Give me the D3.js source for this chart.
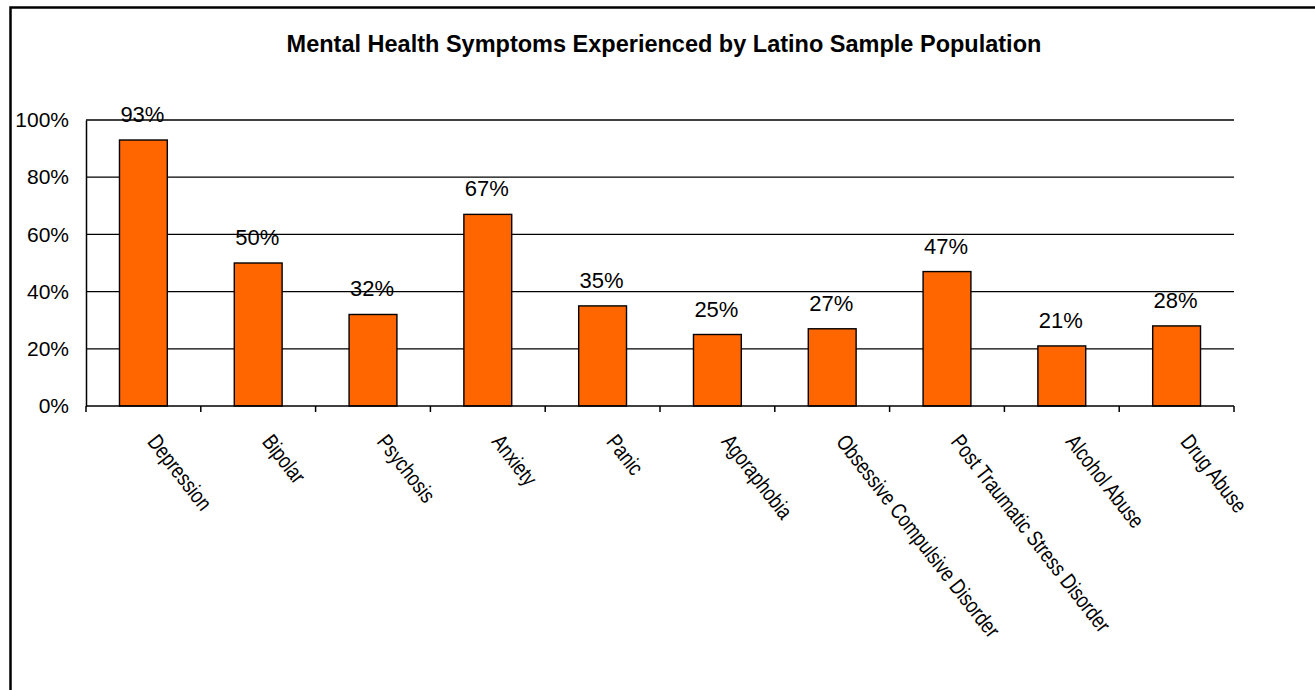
<!DOCTYPE html>
<html>
<head>
<meta charset="utf-8">
<script src="https://cdn.jsdelivr.net/npm/d3@7"></script>
<style>
  html, body { margin: 0; padding: 0; background: #fff; }
  svg { display: block; font-family: "Liberation Sans", Arial, sans-serif; }
</style>
</head>
<body>
<svg id="chart" width="1315" height="690"></svg>
<script>
// Chart data
const categories = ["Depression", "Bipolar", "Psychosis", "Anxiety", "Panic",
  "Agoraphobia", "Obsessive Compulsive Disorder", "Post Traumatic Stress Disorder",
  "Alcohol Abuse", "Drug Abuse"];
const values = [93, 50, 32, 67, 35, 25, 27, 47, 21, 28];
const yTicks = [0, 20, 40, 60, 80, 100];
const title = "Mental Health Symptoms Experienced by Latino Sample Population";

const svg = d3.select("#chart");
const margin = { left: 86, right: 1234, top: 120, bottom: 406 };

// Outer chart frame
svg.append("rect")
  .attr("x", 10.5).attr("y", 7.5)
  .attr("width", 1400).attr("height", 800)
  .attr("fill", "none").attr("stroke", "#000").attr("stroke-width", 2.5);

svg.append("text")
  .attr("x", 664).attr("y", 52)
  .attr("text-anchor", "middle")
  .attr("font-weight", "bold").attr("font-size", 23.5)
  .text(title);

const x = d3.scaleBand().domain(categories)
  .range([margin.left, margin.right])
  .paddingInner(1.4 / 2.4).paddingOuter(0.7 / 2.4);
const xTick = d3.scaleBand().domain(categories).range([margin.left, margin.right]);
const y = d3.scaleLinear().domain([0, 100]).range([margin.bottom, margin.top]);

// Gridlines
svg.append("g").selectAll("line").data(yTicks.filter(d => d > 0)).join("line")
  .attr("x1", margin.left).attr("x2", margin.right)
  .attr("y1", d => y(d)).attr("y2", d => y(d))
  .attr("stroke", "#000").attr("stroke-width", 1.3);

// Y axis labels
const yAxis = d3.axisLeft(y).tickValues(yTicks).tickSize(0).tickPadding(17)
  .tickFormat(d => d + "%");
const gy = svg.append("g").attr("transform", `translate(${margin.left},0)`).call(yAxis);
gy.select(".domain").attr("stroke", "#000").attr("stroke-width", 1.5);
gy.selectAll("text").attr("font-size", 21).attr("fill", "#000")
  .attr("font-family", "Liberation Sans, Arial, sans-serif");

// Bars
svg.append("g").selectAll("rect").data(values).join("rect")
  .attr("x", (d, i) => x(categories[i]))
  .attr("width", x.bandwidth())
  .attr("y", d => y(d))
  .attr("height", d => y(0) - y(d))
  .attr("fill", "#FF6600").attr("stroke", "#000").attr("stroke-width", 1.4);

// Value labels
svg.append("g").selectAll("text").data(values).join("text")
  .attr("x", (d, i) => x(categories[i]) + x.bandwidth() / 2 - 1)
  .attr("y", d => y(d) - 18)
  .attr("text-anchor", "middle").attr("font-size", 22)
  .text(d => d + "%");

// X axis line with tick marks between categories
const xAxisG = svg.append("g");
xAxisG.append("line")
  .attr("x1", margin.left).attr("x2", margin.right)
  .attr("y1", margin.bottom).attr("y2", margin.bottom)
  .attr("stroke", "#000").attr("stroke-width", 1.5);
const tickPos = categories.map(c => xTick(c)).concat([margin.right]);
xAxisG.selectAll("line.tick").data(tickPos).join("line").attr("class", "tick")
  .attr("x1", d => d).attr("x2", d => d)
  .attr("y1", margin.bottom).attr("y2", margin.bottom + 6)
  .attr("stroke", "#000").attr("stroke-width", 1.5);

// Rotated category labels
svg.append("g").selectAll("text").data(categories).join("text")
  .attr("transform", d => `translate(${xTick(d) + xTick.bandwidth() / 2 + 3},442) rotate(52) scale(0.8,1)`)
  .attr("font-size", 22)
  .text(d => d);
</script>
</body>
</html>
